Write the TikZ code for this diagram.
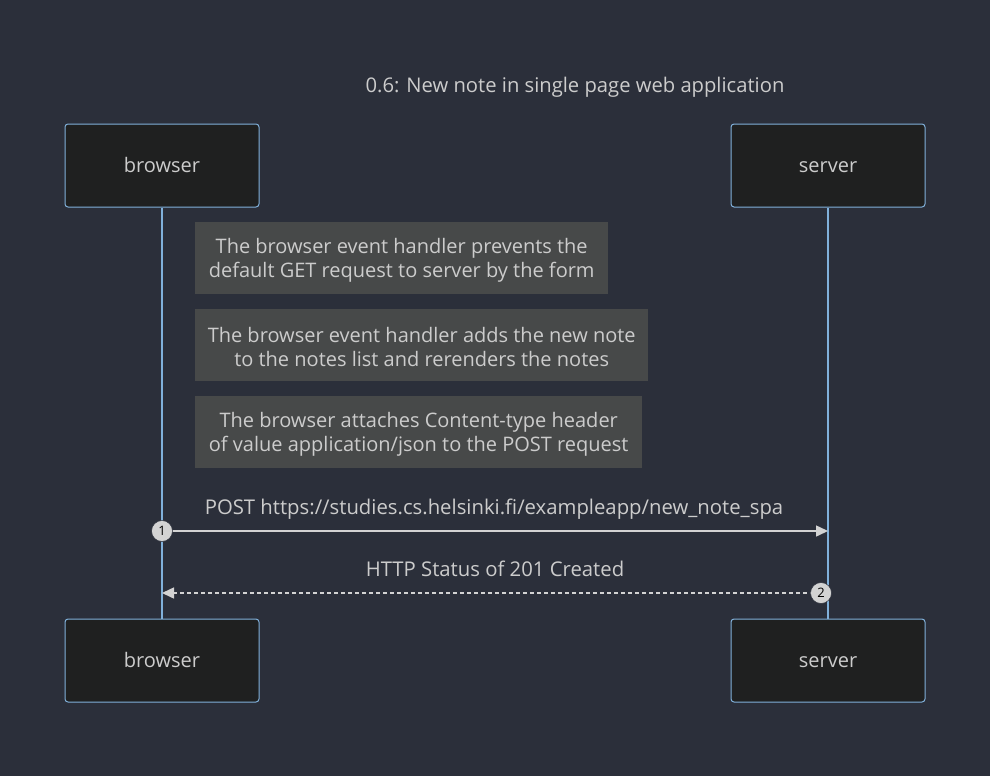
\documentclass[tikz,border=0pt]{standalone}
\usepackage{fontspec}
\setmainfont{Open Sans}
\usetikzlibrary{positioning,arrows.meta}
\definecolor{bgcol}{HTML}{2B2F3A}
\definecolor{actorfill}{HTML}{1F2020}
\definecolor{actorline}{HTML}{81B1DB}
\definecolor{notefill}{HTML}{474949}
\definecolor{textcol}{HTML}{CCCCCC}
\definecolor{msgcol}{HTML}{D3D3D3}

\begin{document}
\begin{tikzpicture}[
    x=1pt, y=-1pt,
    actor/.style={draw=actorline, line width=1pt, fill=actorfill, rounded corners=3pt,
      minimum width=194pt, minimum height=83pt, inner sep=0pt,
      text height=17pt, text depth=3pt,
      text=textcol, font=\fontsize{20}{24}\selectfont},
    note/.style={fill=notefill, anchor=north west, inner sep=0pt, minimum height=72pt},
    notetext/.style={inner sep=0pt, align=center, text=textcol, font=\fontsize{20}{24}\selectfont},
    lifeline/.style={draw=actorline, line width=1.8pt},
    msg/.style={draw=msgcol, line width=1.5pt, -{Triangle[length=12pt,width=11pt]}},
    seqnum/.style={circle, fill=msgcol, draw=bgcol, line width=0.5pt, minimum size=21pt,
      inner sep=0pt, text=black, font=\fontsize{13}{13}\selectfont},
    msglabel/.style={text=textcol, font=\fontsize{20.3}{24}\selectfont}
]

\fill[bgcol] (0,0) rectangle (990,776);
\useasboundingbox (0,0) rectangle (990,776);

\def\lefx{162}
\def\rigx{828}

\node[text=textcol, font=\fontsize{20.2}{24}\selectfont] (title) at (575,87) {0.6: New note in single page web application};

% actors, top and bottom
\node[actor] (browser) at (\lefx,165.5) {browser};
\node[actor] (server) at (\rigx,165.5) {server};
\node[actor] (browserb) at (\lefx,660.5) {browser};
\node[actor] (serverb) at (\rigx,660.5) {server};

\draw[lifeline] (browser.south) -- (browserb.north);
\draw[lifeline] (server.south) -- (serverb.north);

% notes
\node[note, minimum width=413pt] (note1) at (195,222) {};
\node[notetext] (note1txt) at ([yshift=-2pt]note1.center) {The browser event handler prevents the\\default GET request to server by the form};
\node[note, minimum width=453pt] (note2) at (195,309) {};
\node[notetext] (note2txt) at ([yshift=-2pt]note2.center) {The browser event handler adds the new note\\to the notes list and rerenders the notes};
\node[note, minimum width=447pt] (note3) at (195,396) {};
\node[notetext] (note3txt) at ([yshift=-2pt]note3.center) {The browser attaches Content-type header\\of value application/json to the POST request};

% messages
\coordinate (m1a) at (\lefx,531);
\coordinate (m1b) at (\rigx,531);
\coordinate (m2a) at (\rigx,593);
\coordinate (m2b) at (\lefx,593);

\draw[msg] (m1a) -- (m1b);
\node[msglabel] (lab1) at (494,509) {POST https://studies.cs.helsinki.fi/exampleapp/new\_note\_spa};
\node[seqnum] (num1) at (m1a) {1};

\draw[msg, dashed, dash pattern=on 4pt off 3pt] (m2a) -- (m2b);
\node[msglabel] (lab2) at (495,569) {HTTP Status of 201 Created};
\node[seqnum] (num2) at (821,593) {2};

\end{tikzpicture}
\end{document}
